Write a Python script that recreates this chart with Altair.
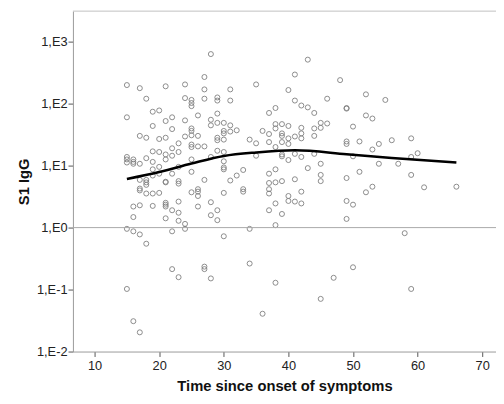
import altair as alt
import pandas as pd

# Days since onset (x columns) and the log10 S1 IgG values read for each column
day_values = [15, 16, 17, 18, 19, 20, 21, 22, 23, 24, 25, 26, 27, 28, 29, 30,
              31, 32, 33, 34, 35, 36, 37, 38, 39, 40, 41, 42, 43, 44, 45, 46,
              47, 48, 49, 50, 51, 52, 53, 54, 55, 56, 57, 58, 59, 60, 61, 66]
log10_igg_groups = [
    [2.30, 1.78, 1.14, 1.10, 1.05, -0.02, -0.99],
    [1.10, 1.06, 1.03, 0.34, 0.17, -0.06, -1.51],
    [2.25, 1.48, 1.03, 0.77, 0.63, 0.60, 0.36, -0.11, -1.69],
    [2.08, 1.45, 1.12, 0.77, 0.73, 0.69, 0.55, -0.26],
    [1.87, 1.64, 1.23, 1.06, 0.94, 0.84, 0.55, 0.35],
    [1.89, 1.43, 1.22, 0.98, 0.87, 0.56],
    [2.28, 1.72, 1.45, 1.18, 1.10, 0.74, 0.73, 0.40, 0.37, 0.34, 0.15],
    [1.78, 1.59, 1.28, 1.16, 0.87, 0.28, -0.06, -0.67],
    [1.36, 1.22, 0.98, 0.75, 0.71, 0.42, 0.24, 0.11, -0.80],
    [2.31, 2.09, 1.73, 1.47, 0.06, -0.02],
    [2.06, 2.01, 1.96, 1.60, 1.56, 1.49, 1.34, 1.30, 1.10, 0.90, 0.57],
    [1.81, 1.48, 1.31, 0.62, 0.58, 0.51, 0.34],
    [2.43, 2.23, 2.08, 1.31, 0.77, -0.63, -0.67],
    [2.80, 1.74, 1.65, 1.14, 0.41, 0.20, -0.82],
    [2.10, 2.05, 1.84, 1.69, 1.45, 1.41, 1.24, 0.28, 0.12],
    [1.69, 1.56, 1.52, 1.42, 1.22, 1.07, 0.97, 0.94, 0.56, -0.14],
    [2.23, 2.05, 1.65, 1.55, 0.76],
    [1.57, 0.84],
    [0.93, 0.62, 0.58],
    [1.42, -0.02, -0.58],
    [2.31, 1.36, 1.16],
    [1.56, -1.39],
    [1.85, 1.51, 1.38, 0.87, 0.72, 0.62, 0.55, 0.28],
    [1.93, 1.67, 1.60, 1.30, 0.94, 0.73, 0.39, 0.04, -0.89],
    [1.67, 1.52, 1.48, 1.38, 1.18, 1.15, 0.75, 0.22],
    [2.22, 1.64, 1.44, 1.35, 1.09, 0.51, 0.43],
    [2.47, 2.05, 1.47, 1.19, 0.78, 0.42],
    [1.97, 1.61, 1.52, 1.44, 1.14, 0.58, 0.39],
    [2.71, 1.94, 0.96],
    [1.85, 1.60, 1.48, 1.19],
    [1.69, 1.61, 1.03, 0.85, 0.75, -1.15],
    [2.08, 1.68],
    [-0.81],
    [2.38],
    [1.93, 1.92, 1.39, 1.35, 0.80, 0.43, 0.14],
    [1.63, 1.15, 0.37, -0.64],
    [1.39, 0.90],
    [2.15, 1.81, 0.57],
    [1.76, 1.26, 0.66],
    [1.35, 1.03],
    [2.06],
    [1.41],
    [1.03],
    [-0.09],
    [1.44, 1.14, 0.85, -0.99],
    [1.20],
    [0.65],
    [0.66],
]

# Fitted curve
curve_days = [15, 20, 25, 30, 35, 41, 49, 56, 66]
curve_igg = [6.1, 7.9, 10.8, 14.3, 16.3, 17.7, 15.3, 13.3, 11.2]

y_ticks = [0.01, 0.1, 1, 10, 100, 1000]
x_ticks = [10, 20, 30, 40, 50, 60, 70]

rows = [(d, 10 ** v) for d, grp in zip(day_values, log10_igg_groups) for v in grp]
pts = pd.DataFrame(rows, columns=["day", "igg"])
curve_df = pd.DataFrame({"day": curve_days, "igg": curve_igg})

FONT = "Liberation Sans"
W, H = 430, 346

xscale = alt.Scale(domain=[6.65, 72.13], nice=False, zero=False)
yscale = alt.Scale(type="log", domain=[0.01, 3112], nice=False)

xaxis = alt.Axis(values=x_ticks, format="d", title="Time since onset of symptoms",
                 grid=False, domainColor="#9a9a9a", tickColor="#555555", tickSize=5,
                 labelFont=FONT, labelFontSize=13, labelColor="#222222", labelPadding=3,
                 titleFont=FONT, titleFontSize=15, titleFontWeight="bold",
                 titleColor="#111111", titleY=40, titleBaseline="alphabetic")
yaxis = alt.Axis(values=y_ticks, labelExpr="'1,E' + round(log(datum.value) / LN10)",
                 title="S1 IgG", grid=False, domainColor="#9a9a9a", tickColor="#555555",
                 tickSize=5, labelFont=FONT, labelFontSize=13, labelColor="#222222",
                 labelPadding=1, titleFont=FONT, titleFontSize=15, titleFontWeight="bold",
                 titleColor="#111111", titleX=-45, titleY=H / 2, titleAngle=270,
                 titleAlign="center", titleBaseline="alphabetic")

X = alt.X("day:Q", scale=xscale, axis=xaxis)
Y = alt.Y("igg:Q", scale=yscale, axis=yaxis)

ref = alt.Chart(pd.DataFrame({"igg": [1]})).mark_rule(color="#a8a8a8", strokeWidth=1).encode(y=Y)

points = alt.Chart(pts).mark_point(shape="circle", filled=False, size=26, color="#7f7f7f",
                                   strokeWidth=0.9, opacity=1).encode(x=X, y=Y)

curve = alt.Chart(curve_df).mark_line(color="black", strokeWidth=2.6,
                                      interpolate="monotone").encode(x=X, y=Y)

topline = alt.Chart(pd.DataFrame({"a": [0]})).mark_rule(color="#c0c0c0", strokeWidth=1).encode(
    x=alt.value(0), x2=alt.value(W), y=alt.value(0))

chart = alt.layer(points, ref, curve, topline).properties(
    width=W, height=H,
    autosize=alt.AutoSizeParams(type="none"),
    padding={"left": 66, "top": 0, "right": 0, "bottom": 42},
    background="white",
).configure_view(stroke=None)

chart.save("out.html", embed_options={"renderer": "svg", "actions": False})
